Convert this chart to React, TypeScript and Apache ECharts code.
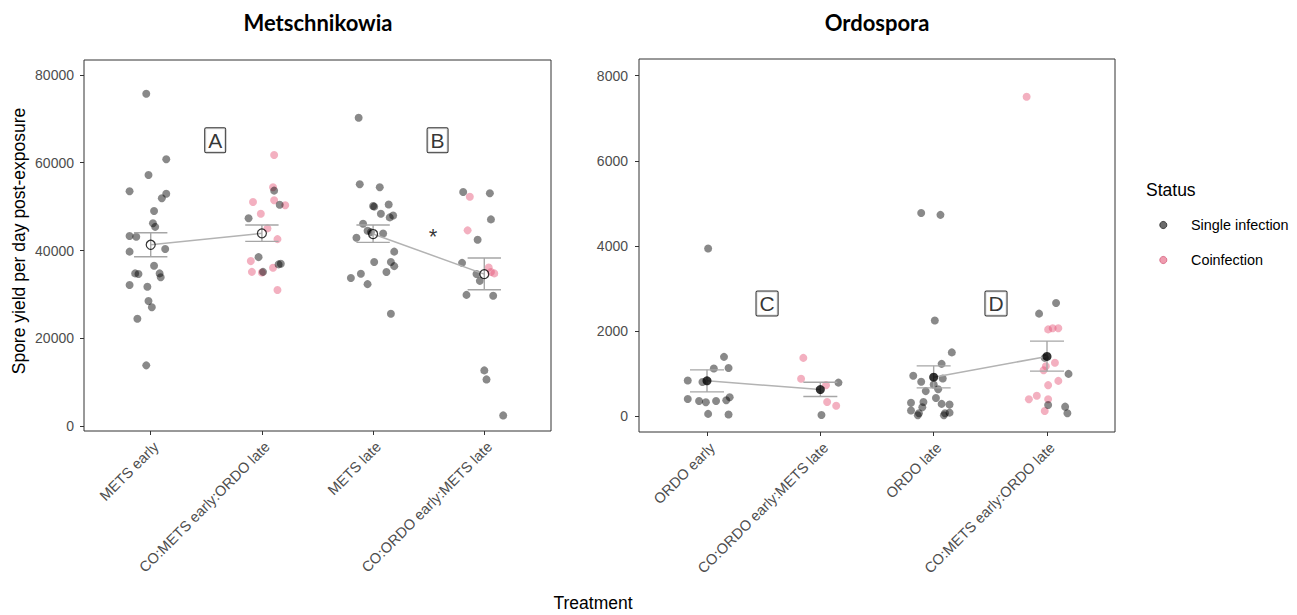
import React, { useEffect, useRef } from 'react';
import * as echarts from 'echarts';

const FONT = '"Liberation Sans", Arial, sans-serif';

const metsCategories = ['METS early', 'CO:METS early:ORDO late', 'METS late', 'CO:ORDO early:METS late'];
const ordoCategories = ['ORDO early', 'CO:ORDO early:METS late', 'ORDO late', 'CO:METS early:ORDO late'];
const metsTicks = [0, 20000, 40000, 60000, 80000];
const ordoTicks = [0, 2000, 4000, 6000, 8000];
const catTicks = [0, 1, 2, 3];

// [category index, jitter offset, spore yield]
const metsSingle = [
  [0, -0.04, 75700], [0, 0.14, 60800], [0, -0.02, 57200], [0, -0.19, 53500], [0, 0.14, 52950],
  [0, 0.10, 51900], [0, 0.03, 49000], [0, 0.02, 46200], [0, 0.04, 45400], [0, -0.19, 43300],
  [0, -0.13, 43150], [0, 0.13, 40350], [0, -0.19, 39750], [0, 0.03, 36550], [0, -0.14, 34800],
  [0, -0.11, 34650], [0, 0.08, 34800], [0, 0.09, 33900], [0, -0.19, 32150], [0, -0.03, 31750],
  [0, -0.02, 28500], [0, 0.01, 27100], [0, -0.12, 24450], [0, -0.04, 13850],
  [1, 0.11, 53650], [1, 0.16, 50450], [1, -0.12, 47350], [1, -0.03, 38500], [1, 0.01, 35150],
  [1, 0.15, 36850], [1, 0.17, 37000],
  [2, -0.13, 70250], [2, -0.12, 55100], [2, 0.06, 54400], [2, 0.0, 50150], [2, 0.01, 50000],
  [2, 0.14, 50500], [2, 0.07, 48400], [2, 0.18, 48000], [2, 0.15, 47550], [2, -0.09, 46100],
  [2, -0.05, 44500], [2, -0.02, 44200], [2, 0.09, 43900], [2, -0.15, 42900], [2, 0.19, 39750],
  [2, 0.01, 37400], [2, 0.16, 37400], [2, 0.19, 36450], [2, 0.12, 35100], [2, -0.11, 34700],
  [2, -0.20, 33750], [2, -0.05, 32350], [2, 0.16, 25600],
  [3, -0.19, 53350], [3, 0.05, 53050], [3, 0.06, 47100], [3, -0.06, 42450], [3, -0.20, 37200],
  [3, -0.07, 34650], [3, -0.04, 33100], [3, -0.16, 29900], [3, 0.08, 29700], [3, 0.0, 12700],
  [3, 0.02, 10650], [3, 0.17, 2450],
];
const metsCo = [
  [1, 0.11, 61750], [1, 0.10, 54400], [1, -0.08, 51050], [1, 0.11, 51450], [1, 0.21, 50300],
  [1, -0.01, 48400], [1, 0.05, 45050], [1, 0.14, 42600], [1, -0.10, 37600], [1, -0.09, 35150],
  [1, 0.0, 35000], [1, 0.10, 36100], [1, 0.14, 31000],
  [3, -0.13, 52250], [3, -0.15, 44600], [3, 0.04, 36150], [3, 0.06, 35100], [3, 0.09, 34800],
];
const ordoSingle = [
  [0, 0.01, 3940], [0, 0.15, 1395], [0, 0.06, 1120], [0, 0.19, 1135], [0, -0.17, 840],
  [0, -0.04, 805], [0, -0.17, 405], [0, -0.07, 360], [0, -0.01, 330], [0, 0.08, 360],
  [0, 0.17, 375], [0, 0.20, 445], [0, 0.01, 55], [0, 0.19, 40],
  [1, 0.16, 790], [1, 0.01, 30],
  [2, -0.11, 4775], [2, 0.06, 4730], [2, 0.01, 2250], [2, 0.16, 1500], [2, 0.07, 1230],
  [2, -0.18, 950], [2, 0.08, 885], [2, -0.11, 810], [2, 0.0, 745], [2, 0.04, 635],
  [2, -0.07, 590], [2, 0.02, 430], [2, -0.09, 335], [2, -0.20, 315], [2, 0.07, 290],
  [2, 0.14, 275], [2, -0.10, 210], [2, -0.20, 135], [2, -0.13, 70], [2, -0.14, 25],
  [2, 0.10, 70], [2, 0.09, 25], [2, 0.14, 85],
  [3, 0.08, 2660], [3, -0.07, 2410], [3, 0.19, 995], [3, -0.02, 1370], [3, 0.01, 265],
  [3, 0.16, 225], [3, 0.18, 70],
];
const ordoCo = [
  [1, -0.15, 1370], [1, -0.17, 880], [1, 0.05, 730], [1, 0.06, 335], [1, 0.14, 245],
  [3, -0.18, 7505], [3, 0.01, 2040], [3, 0.05, 2065], [3, 0.10, 2065], [3, 0.07, 1255],
  [3, -0.01, 1175], [3, -0.03, 1080], [3, 0.10, 830], [3, 0.01, 730], [3, -0.16, 400],
  [3, -0.09, 480], [3, 0.01, 400], [3, -0.02, 125],
];

// [category index, mean, mean - SE, mean + SE]
const metsSummary = [
  [0, 41320, 38590, 44060],
  [1, 43920, 42090, 45810],
  [2, 43760, 41860, 45810],
  [3, 34640, 31060, 38290],
];
const ordoSummary = [
  [0, 831, 572, 1090],
  [1, 627, 463, 800],
  [2, 918, 667, 1184],
  [3, 1404, 1059, 1765],
];

// [x position, y value, label]
const metsLetters = [[0.58, 65100, 'A'], [2.58, 65100, 'B']];
const ordoLetters = [[0.53, 2650, 'C'], [2.55, 2650, 'D']];
const metsStars = [[2.54, 43300, '*']];

const SINGLE = 'rgba(0,0,0,0.58)';
const COINF = 'rgba(228,84,118,0.58)';

const pts = (arr: number[][]) => arr.map((d) => [d[0] + d[1], d[2]]);

export default function App() {
  const ref = useRef<HTMLDivElement>(null);
  useEffect(() => {
    if (!ref.current) return;
    const chart = echarts.init(ref.current, null, { renderer: 'svg' });

    const xAxisBase = (gridIndex: number, cats: string[]) => ({
      type: 'value',
      gridIndex,
      min: -0.6,
      max: 3.6,
      axisLine: { show: false, onZero: false },
      splitLine: { show: false },
      axisTick: { show: true, customValues: catTicks, length: 4, lineStyle: { color: '#333', width: 1 } },
      axisLabel: {
        customValues: catTicks,
        formatter: (v: number) => cats[Math.round(v)] ?? '',
        rotate: 45,
        margin: 8,
        verticalAlign: 'top',
        color: '#4d4d4d',
        fontSize: 14.6,
        fontFamily: FONT,
      },
    });
    const yAxisBase = (gridIndex: number, min: number, max: number, ticks: number[], margin: number) => ({
      type: 'value',
      gridIndex,
      min,
      max,
      axisLine: { show: false, onZero: false },
      splitLine: { show: false },
      axisTick: { show: true, customValues: ticks, length: 4, lineStyle: { color: '#333', width: 1 } },
      axisLabel: {
        customValues: ticks, margin, color: '#4d4d4d', fontSize: 14, fontFamily: FONT,
        formatter: (v: number) => String(v),
      },
    });

    const errRender = (params: any, api: any) => {
      const x = api.value(0);
      const lo = api.value(1);
      const hi = api.value(2);
      const pLo = api.coord([x, lo]);
      const pHi = api.coord([x, hi]);
      const l = api.coord([x - 0.15, lo])[0];
      const r = api.coord([x + 0.15, lo])[0];
      const style = { stroke: '#a6a6a6', lineWidth: 1.4, fill: null };
      return {
        type: 'group',
        children: [
          { type: 'line', shape: { x1: pLo[0], y1: pLo[1], x2: pHi[0], y2: pHi[1] }, style },
          { type: 'line', shape: { x1: l, y1: pLo[1], x2: r, y2: pLo[1] }, style },
          { type: 'line', shape: { x1: l, y1: pHi[1], x2: r, y2: pHi[1] }, style },
        ],
      };
    };

    const panelSeries = (idx: number, single: number[][], co: number[][], summary: number[][], hollow: boolean) => {
      const means = summary.map((s) => [s[0], s[1]]);
      return [
        {
          type: 'scatter', name: 'Coinfection', xAxisIndex: idx, yAxisIndex: idx,
          data: pts(co), symbolSize: 8, itemStyle: { color: COINF }, z: 2, silent: true,
        },
        {
          type: 'scatter', name: 'Single infection', xAxisIndex: idx, yAxisIndex: idx,
          data: pts(single), symbolSize: 8, itemStyle: { color: SINGLE }, z: 2, silent: true,
        },
        {
          type: 'line', xAxisIndex: idx, yAxisIndex: idx, data: means.slice(0, 2), symbol: 'none',
          lineStyle: { color: '#b3b3b3', width: 1.5 }, z: 3, silent: true,
        },
        {
          type: 'line', xAxisIndex: idx, yAxisIndex: idx, data: means.slice(2, 4), symbol: 'none',
          lineStyle: { color: '#b3b3b3', width: 1.5 }, z: 3, silent: true,
        },
        {
          type: 'custom', xAxisIndex: idx, yAxisIndex: idx, renderItem: errRender,
          data: summary.map((s) => [s[0], s[2], s[3]]), encode: { x: 0, y: [1, 2] }, z: 4, silent: true,
        },
        {
          type: 'scatter', xAxisIndex: idx, yAxisIndex: idx, data: means,
          symbolSize: 9,
          itemStyle: hollow
            ? { color: 'rgba(0,0,0,0)', borderColor: '#000', borderWidth: 1.2 }
            : { color: '#000' },
          z: 5, silent: true,
        },
      ];
    };

    const letterSeries = (idx: number, letters: any[]) => ({
      type: 'scatter', xAxisIndex: idx, yAxisIndex: idx,
      data: letters.map((d) => ({ value: [d[0], d[1]], name: d[2] })),
      symbolSize: 1, itemStyle: { color: 'rgba(0,0,0,0)' }, z: 6, silent: true,
      label: {
        show: true, position: 'inside', formatter: '{b}', color: '#000', fontSize: 21,
        fontFamily: FONT, backgroundColor: '#fff', borderColor: '#000', borderWidth: 1,
        padding: [2, 3, 0, 3], lineHeight: 22, borderRadius: 1,
      },
    });

    const option = {
      animation: false,
      grid: [
        { left: 84, top: 60, width: 467, height: 371, show: true, borderColor: '#333', borderWidth: 1, backgroundColor: '#fff' },
        { left: 639, top: 59, width: 476, height: 373, show: true, borderColor: '#333', borderWidth: 1, backgroundColor: '#fff' },
      ],
      xAxis: [xAxisBase(0, metsCategories), xAxisBase(1, ordoCategories)],
      yAxis: [
        yAxisBase(0, -1100, 83400, metsTicks, 10),
        yAxisBase(1, -370, 8390, ordoTicks, 11),
      ],
      series: [
        ...panelSeries(0, metsSingle, metsCo, metsSummary, true),
        ...panelSeries(1, ordoSingle, ordoCo, ordoSummary, false),
        letterSeries(0, metsLetters),
        letterSeries(1, ordoLetters),
        {
          type: 'scatter', xAxisIndex: 0, yAxisIndex: 0,
          data: metsStars.map((d) => ({ value: [d[0], d[1]], name: d[2] })),
          symbolSize: 1, itemStyle: { color: 'rgba(0,0,0,0)' }, z: 6, silent: true,
          label: { show: true, position: 'inside', formatter: '{b}', color: '#000', fontSize: 22, fontFamily: FONT },
        },
      ],
      graphic: [
        { type: 'text', x: 318, y: 22, style: { text: 'Metschnikowia', font: 'bold 22px Lato, "Open Sans", sans-serif', fill: '#000', textAlign: 'center', textVerticalAlign: 'middle' } },
        { type: 'text', x: 877, y: 22, style: { text: 'Ordospora', font: 'bold 22px Lato, "Open Sans", sans-serif', fill: '#000', textAlign: 'center', textVerticalAlign: 'middle' } },
        { type: 'text', x: 19, y: 241, rotation: Math.PI / 2, style: { text: 'Spore yield per day post-exposure', font: `17.5px ${FONT}`, fill: '#000', textAlign: 'center', textVerticalAlign: 'middle' } },
        { type: 'text', x: 593, y: 603, style: { text: 'Treatment', font: `17.5px ${FONT}`, fill: '#000', textAlign: 'center', textVerticalAlign: 'middle' } },
        { type: 'text', x: 1146, y: 190, style: { text: 'Status', font: `17.5px ${FONT}`, fill: '#000', textAlign: 'left', textVerticalAlign: 'middle' } },
        { type: 'circle', shape: { cx: 1163.3, cy: 225, r: 3.6 }, style: { fill: SINGLE, stroke: 'rgba(0,0,0,0.75)', lineWidth: 0.8 } },
        { type: 'circle', shape: { cx: 1163.3, cy: 260, r: 3.6 }, style: { fill: COINF, stroke: 'rgba(200,60,95,0.7)', lineWidth: 0.8 } },
        { type: 'text', x: 1191, y: 225, style: { text: 'Single infection', font: `14.4px ${FONT}`, fill: '#000', textAlign: 'left', textVerticalAlign: 'middle' } },
        { type: 'text', x: 1191, y: 260, style: { text: 'Coinfection', font: `14.4px ${FONT}`, fill: '#000', textAlign: 'left', textVerticalAlign: 'middle' } },
      ],
    };

    chart.setOption(option as any);
    return () => chart.dispose();
  }, []);

  return (
    <div
      ref={ref}
      style={{ position: 'fixed', left: 0, top: 0, width: 1297, height: 615, background: '#fff' }}
    />
  );
}
